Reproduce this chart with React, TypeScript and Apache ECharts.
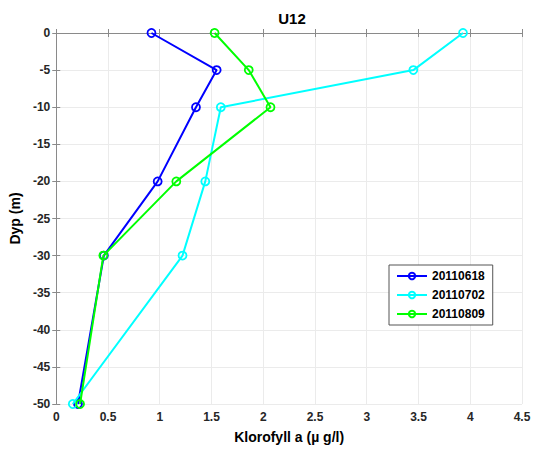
import React, { useEffect, useRef } from "react";
import * as echarts from "echarts";

const depths = [0, -5, -10, -20, -30, -50];
const seriesNames = ["20110618", "20110702", "20110809"];
const chl20110618 = [0.92, 1.55, 1.35, 0.98, 0.46, 0.21];
const chl20110702 = [3.93, 3.45, 1.59, 1.44, 1.22, 0.16];
const chl20110809 = [1.53, 1.86, 2.07, 1.16, 0.455, 0.23];
const colors = ["#0000ff", "#00ffff", "#00ff00"];

export default function App() {
  const ref = useRef<HTMLDivElement>(null);
  useEffect(() => {
    if (!ref.current) return;
    const chart = echarts.init(ref.current, null, { renderer: "svg" });
    const font = "'Liberation Sans', Arial, Helvetica, sans-serif";
    const all = [chl20110618, chl20110702, chl20110809];
    const axisLine = { show: true, lineStyle: { color: "#8a8a8a", width: 1 } };
    const splitLine = { show: true, lineStyle: { color: "#ebebeb", width: 1 } };
    const axisTick = { show: true, inside: true, length: 4, lineStyle: { color: "#8a8a8a" } };
    chart.setOption({
      animation: false,
      backgroundColor: "#fff",
      title: {
        text: "U12",
        left: 287,
        top: 6,
        textAlign: "center",
        textStyle: { fontFamily: font, fontWeight: "bold", fontSize: 15, color: "#000" },
      },
      grid: { left: 53, top: 33, right: 14, bottom: 45, containLabel: false },
      legend: {
        orient: "vertical",
        left: 389,
        top: 265,
        data: seriesNames,
        itemWidth: 30,
        itemHeight: 8,
        itemGap: 7,
        padding: [5, 8, 5, 7],
        borderColor: "#555",
        borderWidth: 1,
        borderRadius: 0,
        backgroundColor: "#fff",
        textStyle: { fontFamily: font, fontWeight: "bold", fontSize: 12, color: "#000" },
      },
      xAxis: [
        {
          type: "value",
          min: 0,
          max: 4.5,
          interval: 0.5,
          position: "bottom",
          name: "Klorofyll a (\u00b5 g/l)",
          nameLocation: "middle",
          nameGap: 26,
          nameTextStyle: { fontFamily: font, fontWeight: "bold", fontSize: 14, color: "#000" },
          axisLine,
          axisTick,
          splitLine,
          axisLabel: { fontFamily: font, fontWeight: "bold", fontSize: 12, color: "#262626", margin: 7 },
        },
        {
          type: "value",
          min: 0,
          max: 4.5,
          interval: 0.5,
          position: "top",
          axisLine,
          axisTick,
          splitLine: { show: false },
          axisLabel: { show: false },
        },
      ],
      yAxis: [
        {
          type: "value",
          min: -50,
          max: 0,
          interval: 5,
          position: "left",
          name: "Dyp (m)",
          nameLocation: "middle",
          nameGap: 32,
          nameRotate: 90,
          nameTextStyle: { fontFamily: font, fontWeight: "bold", fontSize: 14, color: "#000" },
          axisLine,
          axisTick,
          splitLine,
          axisLabel: { fontFamily: font, fontWeight: "bold", fontSize: 12, color: "#262626", margin: 6 },
        },
        {
          type: "value",
          min: -50,
          max: 0,
          interval: 5,
          position: "right",
          axisLine,
          axisTick,
          splitLine: { show: false },
          axisLabel: { show: false },
        },
      ],
      series: seriesNames.map((name, i) => ({
        name,
        type: "line",
        xAxisIndex: 0,
        yAxisIndex: 0,
        data: depths.map((d, j) => [all[i][j], d]),
        symbol: "circle",
        symbolSize: 8,
        showAllSymbol: true,
        color: colors[i],
        lineStyle: { color: colors[i], width: 2 },
        itemStyle: { color: "rgba(255,255,255,0)", borderColor: colors[i], borderWidth: 1.8, opacity: 1 },
        z: 2 + i,
      })),
    });
    return () => chart.dispose();
  }, []);
  return <div ref={ref} style={{ width: 536, height: 449, position: "absolute", left: 0, top: 0 }} />;
}
